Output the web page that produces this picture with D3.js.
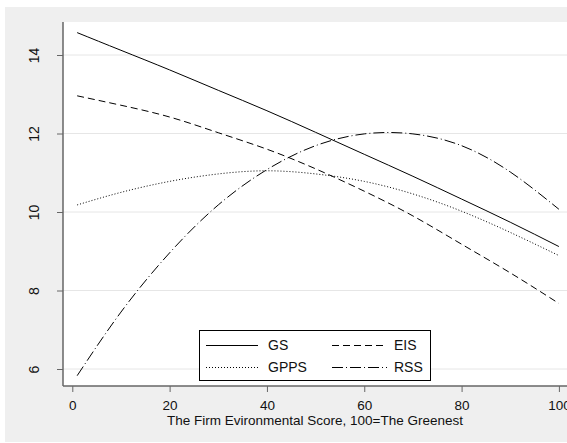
<!DOCTYPE html>
<html>
<head>
<meta charset="utf-8">
<script src="https://cdn.jsdelivr.net/npm/d3@7"></script>
<style>
  body { margin: 0; background: white; }
  svg { display: block; font-family: "Liberation Sans", Arial, sans-serif; }
</style>
</head>
<body>
<div id="chart"></div>
<script>
const score = [1, 10, 20, 30, 40, 50, 60, 70, 80, 90, 100]
const gs   = [14.57, 14.12, 13.62, 13.10, 12.58, 12.03, 11.47, 10.91, 10.33, 9.74, 9.12]
const eis  = [12.96, 12.72, 12.42, 12.02, 11.60, 11.10, 10.53, 9.90, 9.18, 8.45, 7.67]
const gpps = [10.18, 10.50, 10.78, 10.97, 11.05, 10.97, 10.78, 10.46, 10.02, 9.48, 8.89]
const rss  = [5.83, 7.45, 8.96, 10.18, 11.08, 11.69, 11.99, 11.99, 11.69, 11.02, 10.07]

const seriesNames = ["GS", "EIS", "GPPS", "RSS"]
const xTicks = [0, 20, 40, 60, 80, 100]
const yTicks = [6, 8, 10, 12, 14]

const width = 567
const height = 443

const plot = { left: 63, top: 22, right: 567, bottom: 386 }

const dashes = {
    GS: null,
    EIS: "7,4",
    GPPS: "1,2",
    RSS: "11,3,1,3"
}

const svg = d3.select("#chart")
    .append("svg")
    .attr("width", width)
    .attr("height", height)

// gray outer region and white plot region
svg.append("rect")
    .attr("x", 5).attr("y", 7)
    .attr("width", width - 5).attr("height", 435)
    .attr("fill", "#efefef")

svg.append("rect")
    .attr("x", plot.left).attr("y", plot.top)
    .attr("width", plot.right - plot.left).attr("height", plot.bottom - plot.top)
    .attr("fill", "white")

const x = d3.scaleLinear().domain([0, 100]).range([72.3, 558.9])
const y = d3.scaleLinear().domain([6, 14]).range([369, 55])

// grid
svg.append("g")
    .selectAll("line")
    .data(yTicks)
    .enter()
    .append("line")
    .attr("x1", plot.left).attr("x2", plot.right)
    .attr("y1", d => y(d)).attr("y2", d => y(d))
    .attr("stroke", "#e6e6e6")
    .attr("stroke-width", 1)

// axes
const axisColor = "#666"

const yAxis = svg.append("g")
    .attr("transform", `translate(${plot.left},0)`)
    .call(d3.axisLeft(y).tickValues(yTicks).tickSize(6).tickFormat(d3.format("d")))
yAxis.select(".domain").remove()
yAxis.selectAll("line").attr("stroke", axisColor)
yAxis.selectAll("text")
    .attr("x", 0).attr("dy", 0)
    .attr("text-anchor", "middle")
    .attr("transform", "translate(-24,0) rotate(-90)")
    .attr("font-size", 14)
    .attr("font-family", "Liberation Sans, Arial, sans-serif")
    .attr("fill", "#111")

const xAxis = svg.append("g")
    .attr("transform", `translate(0,${plot.bottom})`)
    .call(d3.axisBottom(x).tickValues(xTicks).tickSize(6).tickFormat(d3.format("d")))
xAxis.select(".domain").remove()
xAxis.selectAll("line").attr("stroke", axisColor)
xAxis.selectAll("text")
    .attr("y", 24).attr("dy", 0)
    .attr("font-size", 13.5)
    .attr("font-family", "Liberation Sans, Arial, sans-serif")
    .attr("fill", "#111")

svg.append("line")
    .attr("x1", plot.left).attr("x2", plot.left)
    .attr("y1", plot.top).attr("y2", plot.bottom)
    .attr("stroke", axisColor).attr("stroke-width", 1.5)
svg.append("line")
    .attr("x1", plot.left).attr("x2", plot.right)
    .attr("y1", plot.bottom).attr("y2", plot.bottom)
    .attr("stroke", axisColor).attr("stroke-width", 1.5)

svg.append("text")
    .attr("x", 315).attr("y", 425)
    .attr("text-anchor", "middle")
    .attr("font-size", 13.5)
    .attr("fill", "#111")
    .text("The Firm Evironmental Score, 100=The Greenest")

// curves
const series = [gs, eis, gpps, rss].map((vals, i) => ({
    name: seriesNames[i],
    points: vals.map((v, j) => [score[j], v])
}))

const line = d3.line()
    .x(d => x(d[0]))
    .y(d => y(d[1]))
    .curve(d3.curveNatural)

svg.append("g")
    .selectAll("path")
    .data(series)
    .enter()
    .append("path")
    .attr("d", d => line(d.points))
    .attr("fill", "none")
    .attr("stroke", "black")
    .attr("stroke-width", 1)
    .attr("stroke-dasharray", d => dashes[d.name])

// legend
const legend = svg.append("g")
legend.append("rect")
    .attr("x", 199.5).attr("y", 330.5)
    .attr("width", 231).attr("height", 50)
    .attr("fill", "white")
    .attr("stroke", "black")
    .attr("stroke-width", 1)

const items = legend.selectAll(".legend-item")
    .data(seriesNames)
    .enter()
    .append("g")
    .attr("class", "legend-item")
    .attr("transform", (d, i) => `translate(${i % 2 == 0 ? 206 : 332},${i < 2 ? 345.5 : 367.5})`)

items.append("line")
    .attr("x1", 0).attr("x2", d => d == "GS" || d == "GPPS" ? 52 : 55)
    .attr("y1", 0).attr("y2", 0)
    .attr("stroke", "black")
    .attr("stroke-width", 1)
    .attr("stroke-dasharray", d => dashes[d])

items.append("text")
    .attr("x", 62)
    .attr("y", 4.5)
    .attr("font-size", 14)
    .attr("fill", "#111")
    .text(d => d)
</script>
</body>
</html>
